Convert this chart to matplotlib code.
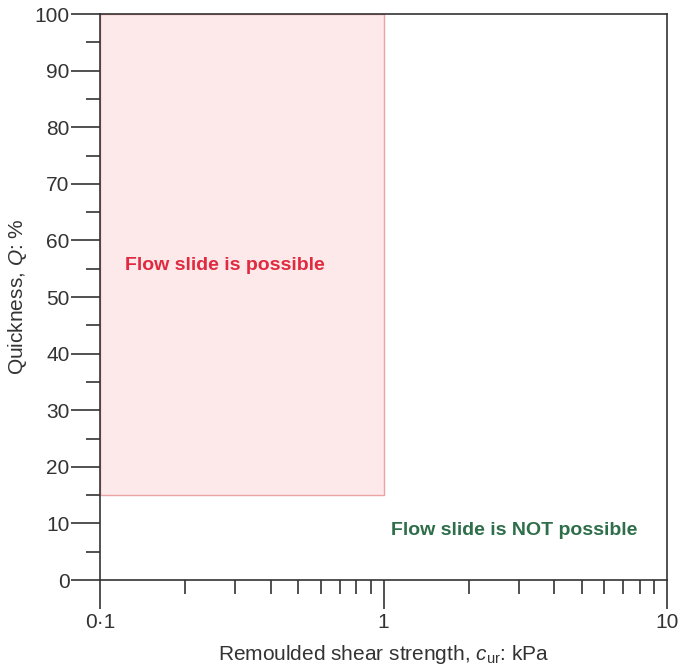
"""
Quickness vs remoulded shear strength: flow slide zone
"""
import matplotlib
matplotlib.use("Agg")
import matplotlib.pyplot as plt
from matplotlib.ticker import FixedLocator, LogLocator, NullFormatter, MultipleLocator

plt.rcParams['font.family'] = ['Liberation Sans', 'DejaVu Sans']
plt.rcParams['mathtext.fontset'] = 'custom'
plt.rcParams['mathtext.rm'] = 'Liberation Sans'
plt.rcParams['mathtext.it'] = 'Liberation Sans:italic'

# zone where a flow slide is possible
zone_x = [0.1, 1.0]      # remoulded shear strength, kPa
zone_q = [15, 100]       # quickness, %

x_ticks = [0.1, 1, 10]
x_labels = ['0·1', '1', '10']
y_ticks = list(range(0, 101, 10))

dark = '#333333'

def main():
    fig = plt.figure(figsize=(6.83, 6.68), dpi=100)
    ax = fig.add_axes([0.1464, 0.1317, 0.8302, 0.8473])

    ax.set_xscale('log')
    ax.set_xlim(0.1, 10)
    ax.set_ylim(0, 100)

    ax.fill_between(zone_x, zone_q[0], zone_q[1], facecolor='#fde9ea',
                    edgecolor='#eba3a6', linewidth=1.0, zorder=1)

    ax.text(0.1225, 55.5, 'Flow slide is possible', color='#e02a40',
            fontsize=14, fontweight='bold', va='center', ha='left')
    ax.text(2.9, 8.8, 'Flow slide is NOT possible', color='#2f6e4a',
            fontsize=14, fontweight='bold', va='center', ha='center')

    ax.xaxis.set_major_locator(FixedLocator(x_ticks))
    ax.set_xticklabels(x_labels)
    ax.xaxis.set_minor_locator(LogLocator(base=10, subs=range(2, 10)))
    ax.xaxis.set_minor_formatter(NullFormatter())
    ax.set_yticks(y_ticks)
    ax.yaxis.set_minor_locator(MultipleLocator(5))

    ax.tick_params(which='major', direction='out', length=21, width=1.2,
                   color=dark, labelcolor=dark, labelsize=15)
    ax.tick_params(axis='y', which='major', pad=1)
    ax.tick_params(axis='x', which='major', pad=3)
    ax.tick_params(which='minor', direction='out', length=10, width=1.2,
                   color=dark)
    for s in ax.spines.values():
        s.set_color(dark)
        s.set_linewidth(1.2)

    ax.set_xlabel(r'Remoulded shear strength, $c_{\mathrm{ur}}$: kPa',
                  fontsize=15, color=dark, labelpad=8)
    ax.set_ylabel(r'Quickness, $Q$: %', fontsize=15, color=dark, labelpad=4)

    fig.savefig('out.png', dpi=100)

if __name__ == "__main__":
    main()
